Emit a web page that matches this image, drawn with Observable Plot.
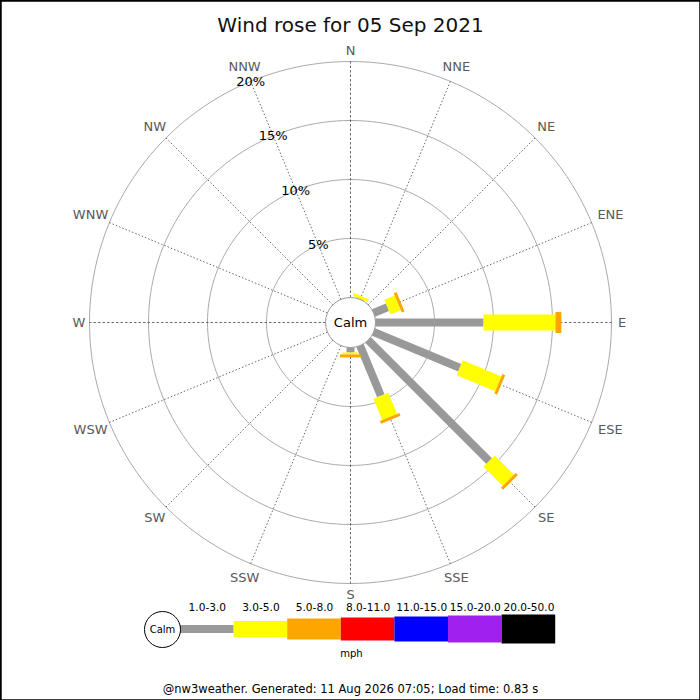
<!DOCTYPE html>
<html>
<head>
<meta charset="utf-8">
<script src="https://cdn.jsdelivr.net/npm/d3@7"></script>
<script src="https://cdn.jsdelivr.net/npm/@observablehq/plot@0.6"></script>
<style>
  body { margin: 0; background: white; overflow: hidden; }
  #chart svg { display: block; }
</style>
</head>
<body>
<div id="chart"></div>
<script>
// directions, clockwise from north
const directions = ["N", "NNE", "NE", "ENE", "E", "ESE", "SE", "SSE",
                    "S", "SSW", "SW", "WSW", "W", "WNW", "NW", "NNW"];

// speed bands (mph)
const bands = ["1.0-3.0", "3.0-5.0", "5.0-8.0", "8.0-11.0", "11.0-15.0", "15.0-20.0", "20.0-50.0"];
const bandColors = ["#999999", "#ffff00", "#ffa500", "#ff0000", "#0000ff", "#a020f0", "#000000"];

// percent of the day per direction, one list per band
const pct1to3   = [0, 0.05, 0, 1.27, 9.15, 7.9, 14.5, 4.6, 0.42, 0, 0, 0, 0, 0, 0, 0];
const pct3to5   = [0, 0.25, 0, 0.95, 6.1, 3.55, 2.3, 1.95, 0.17, 0, 0, 0, 0, 0, 0, 0];
const pct5to8   = [0, 0, 0, 0.25, 0.5, 0.25, 0.25, 0.25, 0.25, 0, 0, 0, 0, 0, 0, 0];
const pct8to11  = [0, 0, 0, 0, 0, 0, 0, 0, 0, 0, 0, 0, 0, 0, 0, 0];
const pct11to15 = [0, 0, 0, 0, 0, 0, 0, 0, 0, 0, 0, 0, 0, 0, 0, 0];
const pct15to20 = [0, 0, 0, 0, 0, 0, 0, 0, 0, 0, 0, 0, 0, 0, 0, 0];
const pct20to50 = [0, 0, 0, 0, 0, 0, 0, 0, 0, 0, 0, 0, 0, 0, 0, 0];
const series = [pct1to3, pct3to5, pct5to8, pct8to11, pct11to15, pct15to20, pct20to50];

const ringPcts = [5, 10, 15, 20];
const ringLabels = ["5%", "10%", "15%", "20%"];

const title = "Wind rose for 05 Sep 2021";
const footer = "@nw3weather. Generated: 11 Aug 2026 07:05; Load time: 0.83 s";

// geometry helpers (plot units are pixels relative to the rose centre, y up)
const calmR = 25;
const pxPerPct = 11.8;
const bandWidths = [8, 16, 21, 23, 25, 27, 29];
const rad = p => calmR + p * pxPerPct;
const ang = i => i * Math.PI / 8;
const px = (r, i) => r * Math.sin(ang(i));
const py = (r, i) => r * Math.cos(ang(i));

// stacked bar segments
let segs = [];
directions.forEach((d, i) => {
  let cum = 0;
  bands.forEach((b, k) => {
    const v = series[k][i];
    if (v > 0) {
      segs.push({dir: d, band: b, w: bandWidths[k],
        x1: px(rad(cum), i), y1: py(rad(cum), i),
        x2: px(rad(cum + v), i), y2: py(rad(cum + v), i)});
    }
    cum += v;
  });
});

// grid rings
let ringPts = [];
ringPcts.forEach(p => {
  d3.range(0, 361, 2).forEach(a => {
    const t = a * Math.PI / 180;
    ringPts.push({ring: p, x: rad(p) * Math.sin(t), y: rad(p) * Math.cos(t)});
  });
});

// compass labels just outside the outer ring
const outerR = rad(20);
const dirLabels = directions.map((d, i) => {
  const w = d.length * 9, h = 10;
  const r = outerR + 6 + (w / 2) * Math.abs(Math.sin(ang(i))) + (h / 2) * Math.abs(Math.cos(ang(i)));
  return {label: d, x: px(r, i), y: py(r, i)};
});

// spokes: cardinals dashed, the rest dotted
const spokes = directions.map((d, i) => ({i: i, cardinal: i % 4 == 0}));
const spokeOpts = dash => ({
  x1: d => px(calmR, d.i), y1: d => py(calmR, d.i),
  x2: d => px(outerR, d.i), y2: d => py(outerR, d.i),
  stroke: "#444", strokeWidth: 0.8, strokeDasharray: dash
});

// legend rows
const legX0 = -170, legStep = 53.6, legY = -307;
const legend = bands.map((b, k) => ({band: b, x1: legX0 + k * legStep, x2: legX0 + (k + 1) * legStep,
  y1: legY - bandWidths[k] / 2, y2: legY + bandWidths[k] / 2}));

const font = "DejaVu Sans";

let chart = Plot.plot({
  width: 700,
  height: 700,
  margin: 0,
  x: {domain: [-350, 350], range: [0, 700], axis: null},
  y: {domain: [322, -378], range: [0, 700], axis: null},
  color: {type: "ordinal", domain: bands, range: bandColors},
  style: {fontFamily: font, background: "white"},
  marks: [
    Plot.line(ringPts, {x: "x", y: "y", z: "ring", stroke: "#aaaaaa", strokeWidth: 1}),
    Plot.link(spokes.filter(d => d.cardinal), spokeOpts("2.5,2")),
    Plot.link(spokes.filter(d => !d.cardinal), spokeOpts("1.5,2")),
    Plot.dot([0], {x: () => 0, y: () => 0, r: calmR, fill: "white", stroke: "#999", strokeWidth: 1}),
    Plot.link(segs, {x1: "x1", y1: "y1", x2: "x2", y2: "y2", stroke: "band",
      strokeWidth: "w", strokeLinecap: "butt"}),
    Plot.text(ringLabels, {
      x: (d, i) => px(rad(ringPcts[i]), 15), y: (d, i) => py(rad(ringPcts[i]), 15),
      text: d => d, fill: "black", fontSize: 13, fontFamily: font
    }),
    Plot.text(dirLabels, {x: "x", y: "y", text: "label", fill: "#5a5a5a", fontSize: 13, fontFamily: font}),
    Plot.text(["Calm"], {x: () => 0, y: () => 0, text: d => d, fill: "black", fontSize: 13, fontFamily: font}),
    Plot.text([title], {frameAnchor: "top", dy: 17, text: d => d, fill: "#111", fontSize: 20, fontFamily: font}),
    // legend
    Plot.rect(legend, {x1: "x1", x2: "x2", y1: "y1", y2: "y2", fill: "band"}),
    Plot.text(legend, {x: d => (d.x1 + d.x2) / 2, y: legY + 22, text: "band", fill: "black", fontSize: 10.6, fontFamily: font}),
    Plot.dot([0], {x: () => legX0 - 18, y: () => legY, r: 18, fill: "white", stroke: "black", strokeWidth: 1}),
    Plot.text(["Calm"], {x: () => legX0 - 18, y: () => legY, text: d => d, fill: "black", fontSize: 10, fontFamily: font}),
    Plot.text(["mph"], {x: () => 1, y: () => legY - 24, text: d => d, fill: "black", fontSize: 10, fontFamily: font}),
    Plot.text([footer], {frameAnchor: "bottom", dy: -8, text: d => d, fill: "black", fontSize: 11.5, fontFamily: font}),
    Plot.frame({stroke: "black", strokeWidth: 2.5})
  ]
});

d3.select("#chart").append(() => chart);
</script>
</body>
</html>
